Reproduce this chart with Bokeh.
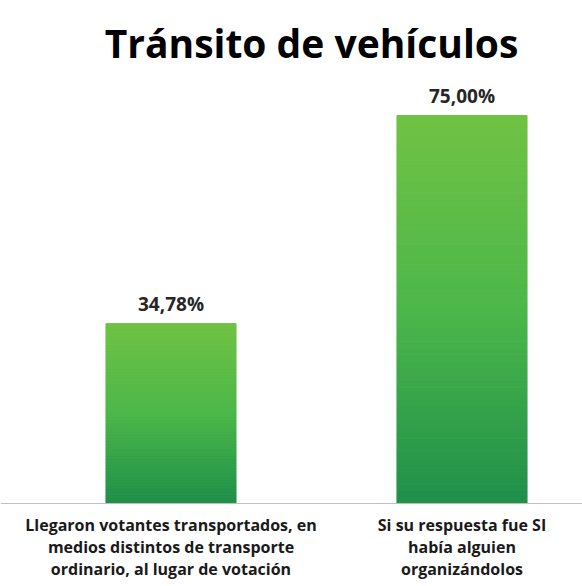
from bokeh.plotting import figure
from bokeh.models import Range1d, Span, Label, ColumnDataSource
from bokeh.embed import file_html
from bokeh.resources import INLINE
from bokeh.core.properties import value

title_text = "Tránsito de vehículos"
categories = [
    "Llegaron votantes transportados, en\nmedios distintos de transporte\nordinario, al lugar de votación",
    "Si su respuesta fue SI\nhabía alguien\norganizándolos",
]
values = [34.78, 75.00]
value_labels = ["34,78%", "75,00%"]
positions = [1, 2]

FONT = "Open Sans"

p = figure(width=582, height=586, output_backend="svg", toolbar_location=None,
           x_range=Range1d(0.4141, 2.4141), y_range=Range1d(-16.04, 97.24),
           min_border=0, min_border_left=0, min_border_right=0,
           min_border_top=0, min_border_bottom=0)
p.axis.visible = False
p.grid.visible = False
p.outline_line_color = None
p.background_fill_color = "white"
p.border_fill_color = "white"

# gradient bars built as stacked slices
def lerp(c1, c2, t):
    return tuple(int(round(a + (b - a) * t)) for a, b in zip(c1, c2))

top_c = (0x70, 0xc2, 0x44)
mid_c = (0x4c, 0xb7, 0x4a)
bot_c = (0x1f, 0x8f, 0x4a)

def grad(t):  # t: 0 bottom -> 1 top
    if t > 0.5:
        c = lerp(mid_c, top_c, (t - 0.5) / 0.5)
    else:
        c = lerp(bot_c, mid_c, t / 0.5)
    return "#%02x%02x%02x" % c

N = 60
xs, bottoms, tops, colors = [], [], [], []
for x, v in zip(positions, values):
    for j in range(N):
        xs.append(x)
        bottoms.append(v * j / N)
        tops.append(v * (j + 1) / N)
        colors.append(grad((j + 0.5) / N))
src = ColumnDataSource(dict(x=xs, bottom=bottoms, top=tops, color=colors))
p.vbar(x="x", bottom="bottom", top="top", width=0.447, source=src,
       fill_color="color", line_color="color", line_width=1)

p.add_layout(Span(location=0, dimension="width", line_color="#bfbfbf", line_width=1))

lab_src = ColumnDataSource(dict(x=positions, y=values, t=value_labels))
p.text(x="x", y="y", text="t", source=lab_src, text_align="center",
       text_baseline="alphabetic", y_offset=-20, text_font=value(FONT),
       text_font_style="bold", text_font_size="19px", text_color="#262626")

cat_src = ColumnDataSource(dict(x=positions, y=[0, 0], t=categories))
p.text(x="x", y="y", text="t", source=cat_src, text_align="center",
       text_baseline="top", y_offset=10, text_font=value(FONT),
       text_font_style="bold", text_font_size="16px", text_color="#1a1a1a",
       text_line_height=1.02)

p.add_layout(Label(x=311, y=544, x_units="screen", y_units="screen",
                   text=title_text, text_align="center", text_baseline="alphabetic",
                   text_font=FONT, text_font_style="bold", text_font_size="39px",
                   text_color="#000000"))

open("out.html", "w").write(file_html(p, INLINE))
